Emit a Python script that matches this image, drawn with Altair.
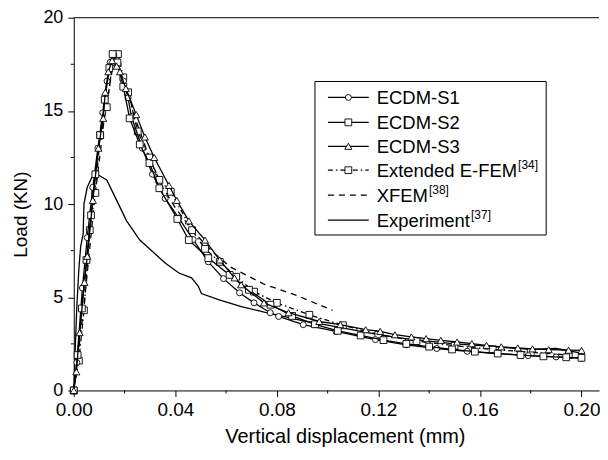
import altair as alt
import pandas as pd

W, H = 527, 374
XMAX = 0.2069

x_ticks = [0.0, 0.04, 0.08, 0.12, 0.16, 0.20]
x_minor = [0.02, 0.06, 0.10, 0.14, 0.18]
y_ticks = [0, 5, 10, 15, 20]
y_minor = [2.5, 7.5, 12.5, 17.5]

s1_x = [0, 0.0012, 0.0034, 0.0053, 0.0075, 0.0095, 0.0114, 0.0131, 0.0143, 0.0158, 0.0175, 0.0196, 0.0214,
        0.0227, 0.027, 0.031, 0.036, 0.0414, 0.047, 0.053, 0.059, 0.0653, 0.071, 0.0774, 0.0807, 0.0904,
        0.1033, 0.1188, 0.131, 0.143, 0.155, 0.167, 0.179, 0.19, 0.2]
s1_y = [0, 1.5, 5.5, 8.2, 10.9, 13.0, 14.9, 16.6, 17.6, 18.0, 17.5, 16.6, 15.7,
        14.7, 13.0, 11.6, 10.3, 9.25, 8.1, 6.9, 6.0, 5.24, 4.7, 4.17, 3.97, 3.53,
        3.17, 2.73, 2.45, 2.25, 2.1, 1.98, 1.87, 1.8, 1.72]

s2_x = [0, 0.0015, 0.0032, 0.005, 0.0068, 0.0085, 0.0104, 0.0122, 0.014, 0.0153, 0.0172, 0.0195, 0.022,
        0.026, 0.0298, 0.0337, 0.0408, 0.0453, 0.053, 0.0614, 0.069, 0.0775, 0.086, 0.095, 0.104, 0.113,
        0.122, 0.131, 0.14, 0.149, 0.158, 0.167, 0.176, 0.185, 0.194, 0.2]
s2_y = [0, 1.9, 4.4, 7.0, 9.4, 11.6, 13.7, 15.6, 17.3, 18.05, 17.6, 16.3, 14.6,
        13.2, 12.2, 10.85, 9.2, 8.07, 7.1, 6.2, 5.4, 4.6, 4.0, 3.55, 3.2, 2.95,
        2.7, 2.5, 2.35, 2.2, 2.08, 1.98, 1.9, 1.83, 1.78, 1.75]

s3_x = [0, 0.001, 0.0023, 0.0042, 0.0053, 0.0075, 0.0097, 0.0116, 0.0124, 0.0136, 0.0151, 0.0169, 0.0182,
        0.0205, 0.0246, 0.028, 0.0317, 0.0375, 0.0406, 0.0453, 0.0517, 0.0575, 0.0633, 0.0659, 0.0749,
        0.0846, 0.0967, 0.105, 0.115, 0.1207, 0.1265, 0.133, 0.1388, 0.1446, 0.151, 0.1568, 0.1626,
        0.1684, 0.1749, 0.1807, 0.1871, 0.1949, 0.2]
s3_y = [0, 1.0, 3.1, 5.8, 7.2, 10.2, 13.0, 14.6, 16.0, 17.1, 17.7, 17.4, 17.1,
        16.2, 14.8, 13.6, 12.5, 11.0, 10.2, 9.1, 8.07, 7.0, 6.04, 5.67, 4.7,
        4.17, 3.7, 3.53, 3.26, 3.17, 2.99, 2.87, 2.78, 2.69, 2.6, 2.51, 2.42,
        2.34, 2.28, 2.23, 2.19, 2.16, 2.15]

efem_x = [0, 0.002, 0.004, 0.0063, 0.0085, 0.0104, 0.013, 0.0153, 0.0174, 0.0195, 0.0214, 0.0252, 0.0298,
          0.0337, 0.0382, 0.0466, 0.0517, 0.0575, 0.064, 0.071, 0.08, 0.0928, 0.106, 0.12, 0.135, 0.15,
          0.165, 0.18, 0.195]
efem_y = [0, 1.6, 4.3, 8.6, 10.6, 13.7, 15.2, 17.6, 18.05, 16.8, 16.0, 13.9, 12.5,
          11.3, 10.66, 8.6, 7.6, 6.9, 6.1, 5.3, 4.7, 4.06, 3.5, 3.0, 2.65, 2.4,
          2.2, 2.05, 1.9]

xfem_x = [0, 0.004, 0.008, 0.012, 0.016, 0.02, 0.025, 0.03, 0.035, 0.04, 0.045, 0.05, 0.055, 0.062,
          0.075, 0.0878, 0.0994, 0.102]
xfem_y = [0, 4.5, 10.0, 14.6, 17.9, 16.6, 14.3, 12.4, 10.9, 9.8, 8.9, 8.1, 7.4, 6.6,
          5.7, 5.1, 4.44, 4.3]

exp_x = [0, 0.0005, 0.0012, 0.002, 0.0027, 0.0037, 0.004, 0.0053, 0.0072, 0.0092, 0.011, 0.013, 0.0169,
         0.0208, 0.026, 0.0298, 0.036, 0.0414, 0.0464, 0.049, 0.0503, 0.057, 0.066, 0.075, 0.08, 0.09,
         0.1, 0.11, 0.12, 0.13, 0.14, 0.15, 0.16, 0.17, 0.18, 0.19, 0.2]
exp_y = [0, 2.0, 4.5, 6.5, 7.7, 8.4, 10.0, 10.9, 11.45, 11.6, 11.45, 11.3, 10.2,
         9.1, 8.07, 7.6, 6.84, 6.3, 6.04, 5.6, 5.2, 4.87, 4.5, 4.2, 4.05, 3.75,
         3.5, 3.25, 3.0, 2.8, 2.65, 2.5, 2.4, 2.3, 2.2, 2.25, 2.0]

legend_names = ["ECDM-S1", "ECDM-S2", "ECDM-S3", "Extended E-FEM", "XFEM", "Experiment"]
legend_sups = ["", "", "", "[34]", "[38]", "[37]"]
legend_shapes = ["circle", "square", "triangle-up", "square", None, None]
legend_dash = [[1, 0], [1, 0], [1, 0], [5, 3, 1.5, 3], [6, 5], [1, 0]]
legend_text_w = [0, 0, 0, 140.8, 51.4, 93.6]

FONT = "Liberation Sans"

xs = alt.Scale(domain=[0, XMAX], nice=False, zero=False)
ys = alt.Scale(domain=[0, 20], nice=False)
X = alt.X("x:Q", scale=xs, axis=alt.Axis(values=x_ticks, format=".2f", title="Vertical displacement (mm)",
                                         titleX=272))
Y = alt.Y("y:Q", scale=ys, axis=alt.Axis(values=y_ticks, format="d", title="Load (KN)", titleY=197))


def df(x, y):
    return pd.DataFrame({"x": x, "y": y})


SIZES = {"circle": 36, "square": 46, "triangle-up": 50}


def series(x, y, shape=None, dash=None):
    d = df(x, y)
    kw = {"color": "black", "strokeWidth": 1.3, "clip": False}
    if dash:
        kw["strokeDash"] = dash
    layers = [alt.Chart(d).mark_line(**kw).encode(x=X, y=Y)]
    if shape:
        layers.append(alt.Chart(d).mark_point(shape=shape, filled=True, fill="white", stroke="black",
                                              strokeWidth=0.9, size=SIZES[shape], opacity=1)
                      .encode(x=X, y=Y))
    return layers


layers = []
layers += series(exp_x, exp_y)
layers += series(xfem_x, xfem_y, dash=[6, 5])
layers += series(efem_x, efem_y, "square", dash=[5, 3, 1.5, 3])
layers += series(s1_x, s1_y, "circle")
layers += series(s2_x, s2_y, "square")
layers += series(s3_x, s3_y, "triangle-up")

# minor ticks
layers.append(alt.Chart(pd.DataFrame({"x": x_minor})).mark_rule(color="black", strokeWidth=1, clip=False)
              .encode(x=X, y=alt.value(H), y2=alt.value(H + 3)))
layers.append(alt.Chart(pd.DataFrame({"y": y_minor})).mark_rule(color="black", strokeWidth=1, clip=False)
              .encode(y=Y, x=alt.value(0), x2=alt.value(-3)))
# top frame line
layers.append(alt.Chart(pd.DataFrame({"a": [0]})).mark_rule(color="black", strokeWidth=1)
              .encode(x=alt.value(0), x2=alt.value(W), y=alt.value(0)))

# legend
LX0, LX1, LY0, LY1 = 242, 474, 64, 218
layers.append(alt.Chart(pd.DataFrame({"a": [0]})).mark_rect(fill="white", stroke="black", strokeWidth=1)
              .encode(x=alt.value(LX0), x2=alt.value(LX1), y=alt.value(LY0), y2=alt.value(LY1)))
entry_y = [80, 105, 129, 153, 178, 203]
for i, name in enumerate(legend_names):
    yy = entry_y[i]
    layers.append(alt.Chart(pd.DataFrame({"a": [0]})).mark_rule(color="black", strokeWidth=1.3,
                                                                strokeDash=legend_dash[i])
                  .encode(x=alt.value(255), x2=alt.value(296), y=alt.value(yy)))
    if legend_shapes[i]:
        layers.append(alt.Chart(pd.DataFrame({"a": [0]})).mark_point(
            shape=legend_shapes[i], filled=True, fill="white", stroke="black", strokeWidth=0.9,
            size=SIZES[legend_shapes[i]], opacity=1)
            .encode(x=alt.value(275.5), y=alt.value(yy)))
    layers.append(alt.Chart(pd.DataFrame({"t": [name]})).mark_text(
        align="left", baseline="middle", font=FONT, fontSize=18.5, color="black")
        .encode(x=alt.value(304), y=alt.value(yy + 1), text="t:N"))
    if legend_sups[i]:
        layers.append(alt.Chart(pd.DataFrame({"t": [legend_sups[i]]})).mark_text(
            align="left", baseline="middle", font=FONT, fontSize=12, color="black")
            .encode(x=alt.value(304 + legend_text_w[i] + 1), y=alt.value(yy - 5), text="t:N"))

chart = alt.layer(*layers).properties(
    width=W, height=H, padding={"left": 3, "top": 0, "right": 0, "bottom": 2}
).configure_view(stroke=None).configure_axis(
    grid=False, domainColor="black", tickColor="black", labelColor="black", titleColor="black",
    labelFont=FONT, titleFont=FONT, labelFontSize=19, titleFontWeight="normal",
    tickSize=6, domainWidth=1, tickWidth=1, labelFlush=False
).configure_axisX(labelPadding=4, titlePadding=7, titleFontSize=20).configure_axisY(
    labelPadding=5, titlePadding=12, titleFontSize=19, labelFontSize=18)

chart.save("out.html", embed_options={"renderer": "svg", "actions": False})
